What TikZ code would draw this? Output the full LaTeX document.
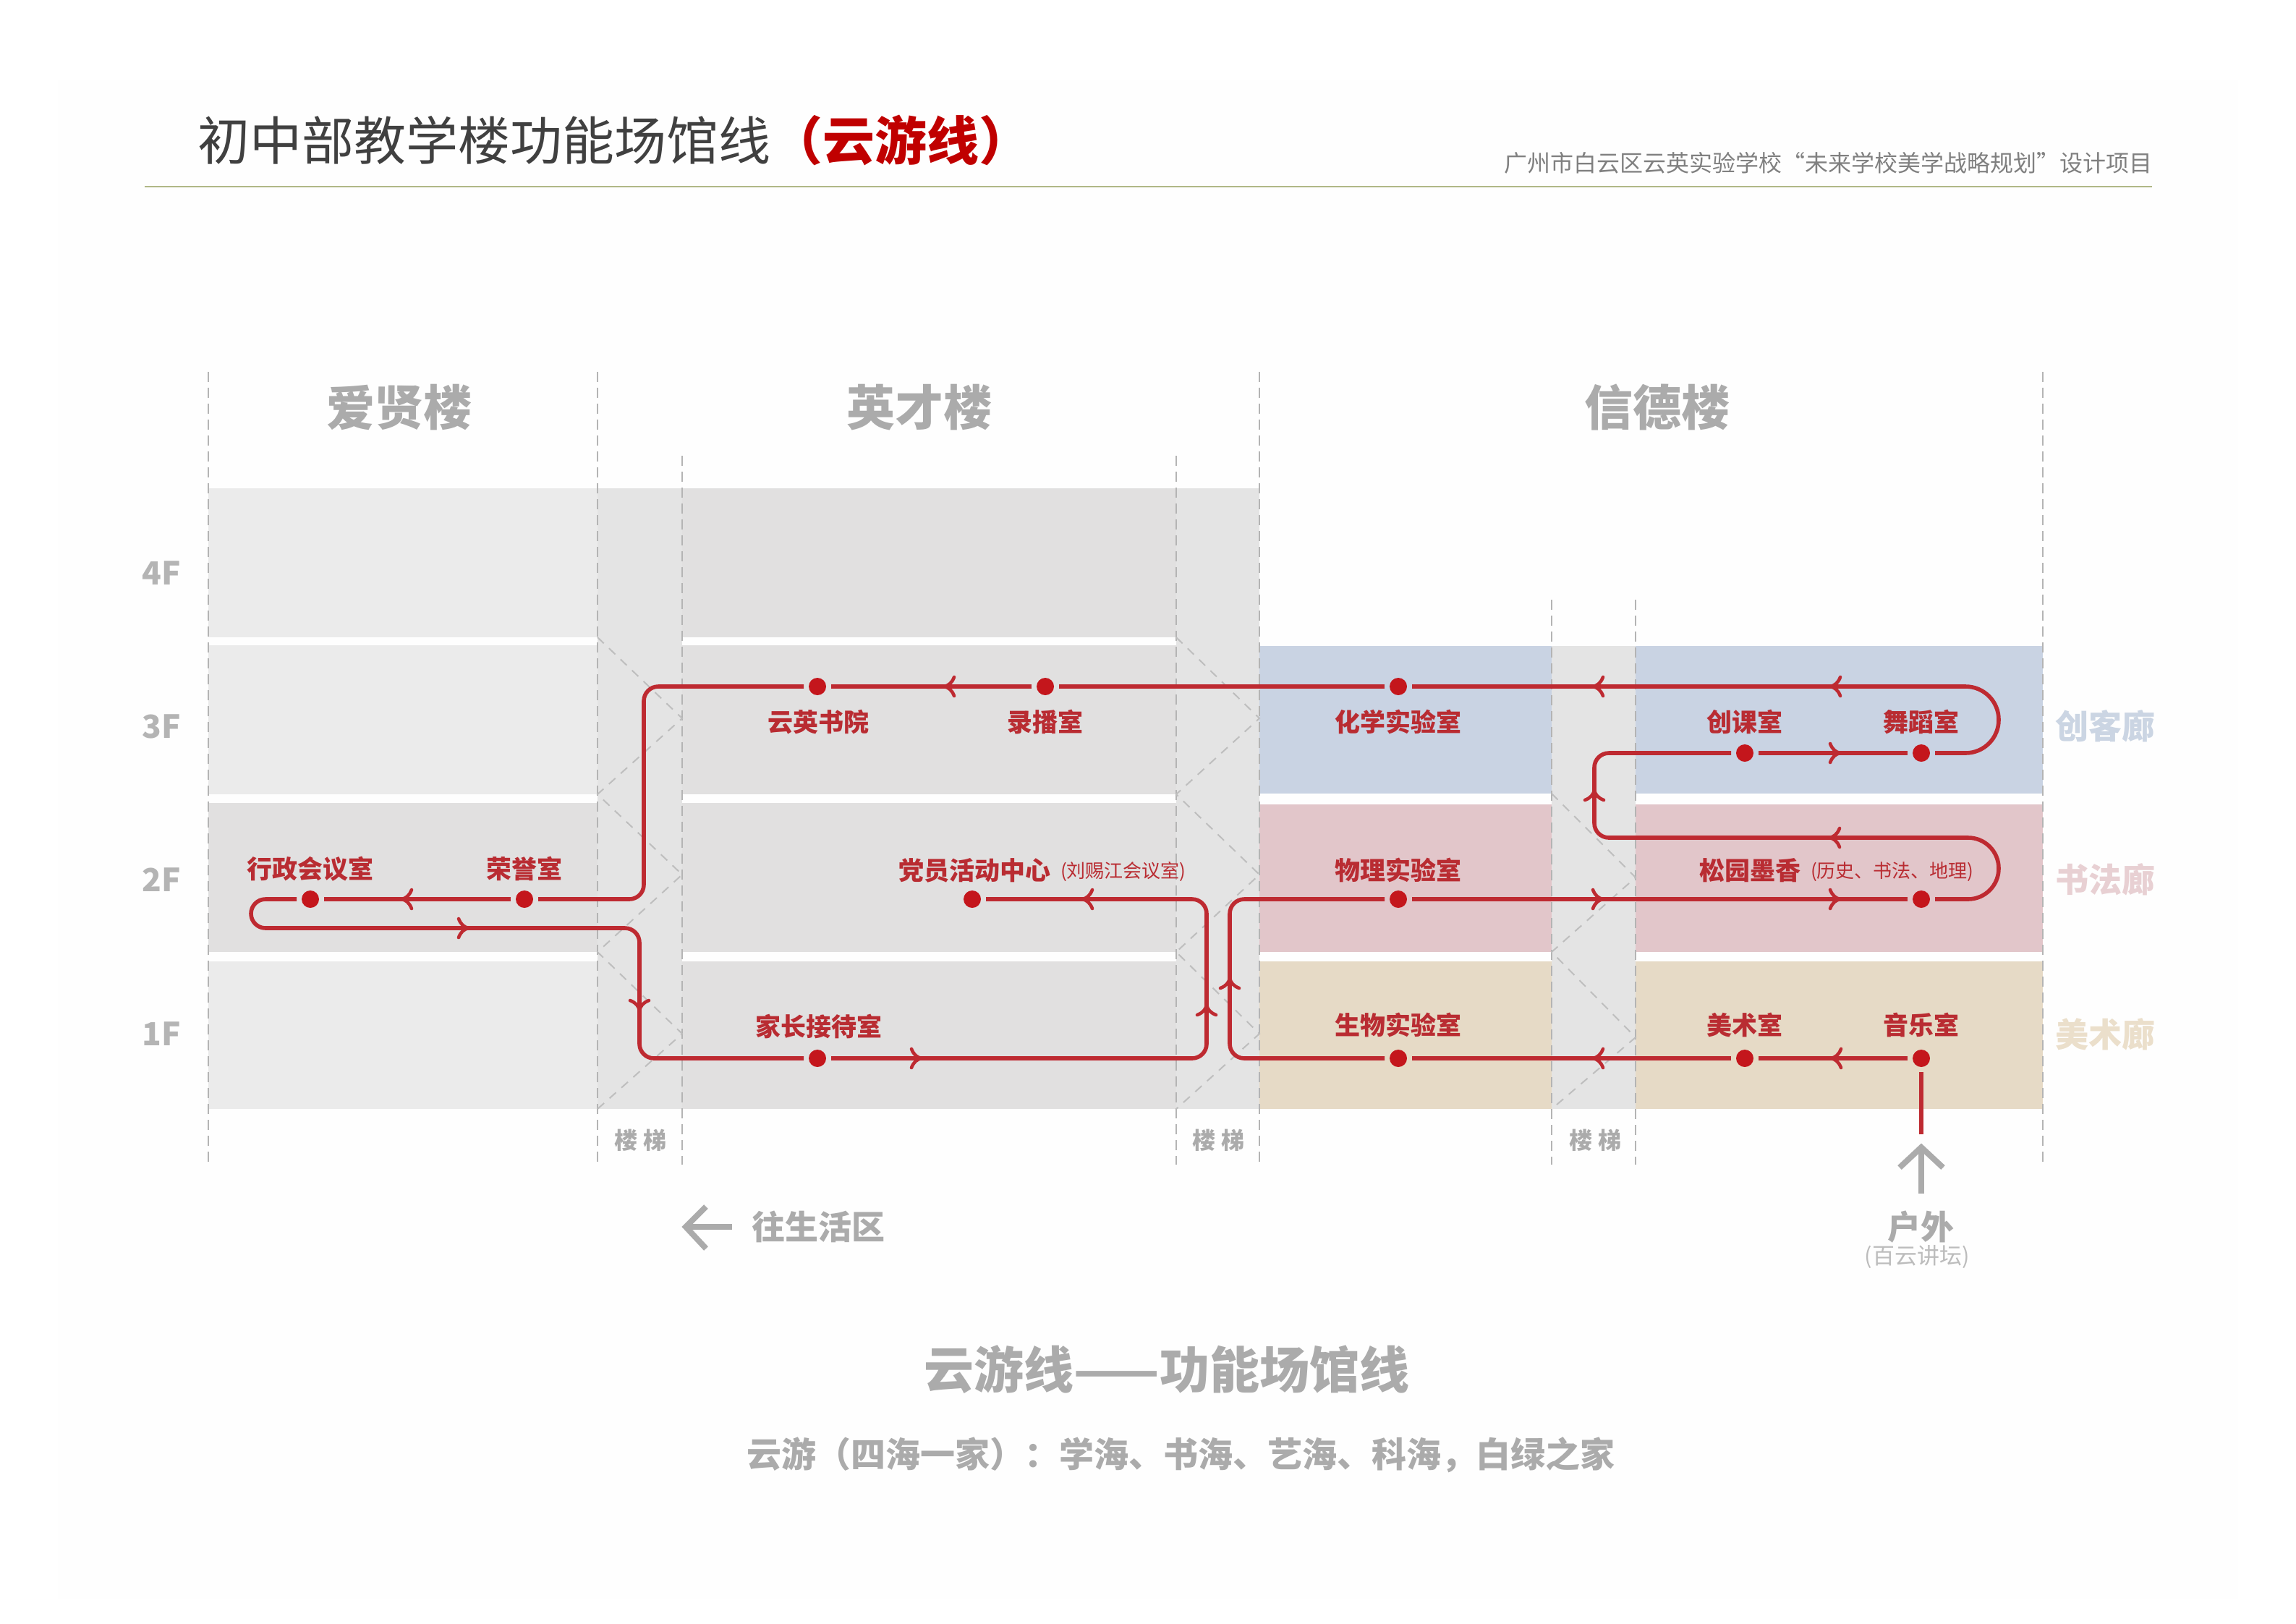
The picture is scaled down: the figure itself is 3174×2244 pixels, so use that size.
\documentclass[tikz,border=0pt]{standalone}
\usepackage{fontspec}
\setmainfont{Noto Sans CJK SC}
\usetikzlibrary{calc}
\definecolor{routered}{HTML}{BE2A31}
\definecolor{dotred}{HTML}{C4161C}
\definecolor{labelred}{HTML}{B92C32}
\definecolor{bandlight}{HTML}{EBEBEB}
\definecolor{banddark}{HTML}{E1E0E0}
\definecolor{shaft}{HTML}{E4E4E4}
\definecolor{bandblue}{HTML}{C9D3E3}
\definecolor{bandpink}{HTML}{E2C6CA}
\definecolor{bandtan}{HTML}{E6DAC6}
\definecolor{dashgray}{HTML}{B4B4B4}
\definecolor{diaggray}{HTML}{BEBEBE}
\definecolor{textgray}{HTML}{ABABAB}
\tikzset{
  txt/.style={inner sep=0pt,outer sep=0pt},
  room/.style={txt,text=labelred,font=\fontsize{17.5}{17.5}\selectfont\bfseries},
  roomsub/.style={txt,text=labelred,font=\fontsize{13}{13}\selectfont,anchor=west},
  building/.style={txt,text=textgray,font=\fontsize{33.5}{33.5}\selectfont\bfseries},
  floorlabel/.style={txt,anchor=east,text=textgray!90,font=\fontsize{22}{22}\selectfont\bfseries},
  stairlabel/.style={txt,text=textgray,font=\fontsize{16}{16}\selectfont\bfseries},
  corridor/.style={txt,font=\fontsize{23}{23}\selectfont\bfseries},
  vdash/.style={dashgray,line width=1pt,dash pattern=on 7pt off 4pt},
  ddash/.style={diaggray,line width=1pt,dash pattern=on 6pt off 5pt},
  route/.style={routered,line width=2.8pt},
  chevronline/.style={routered,line width=2.3pt,line cap=round},
  stop/.style={circle,fill=dotred,draw=none,minimum size=12pt,inner sep=0pt,outer sep=3.5pt},
  grayarrow/.style={textgray,line width=4pt},
}
\newcommand{\chevmark}[3]{\draw[chevronline,shift={(#1,#2)},rotate=#3] (-14,-13) .. controls (-11,-5) and (-6,-1) .. (0,0) .. controls (-6,1) and (-11,5) .. (-14,13);}
\begin{document}
\begin{tikzpicture}[x=0.5pt,y=-0.5pt]
\useasboundingbox (0,0) rectangle (3174,2244);
\fill[white] (0,0) rectangle (3174,2244);
\fill[black!0.5] (80,110) rectangle (3094,2210);

% floor bands: left wing
\fill[bandlight] (288,675) rectangle (826,881);
\fill[bandlight] (288,892) rectangle (826,1098);
\fill[banddark] (288,1110) rectangle (826,1316);
\fill[bandlight] (288,1329) rectangle (826,1533);
% floor bands: middle wing
\fill[banddark] (943,675) rectangle (1626,881);
\fill[banddark] (943,892) rectangle (1626,1098);
\fill[banddark] (943,1110) rectangle (1626,1316);
\fill[banddark] (943,1329) rectangle (1626,1533);
% stair shafts
\fill[shaft] (826,675) rectangle (943,1533);
\fill[shaft] (1626,675) rectangle (1741,1533);
\fill[shaft] (2145,893) rectangle (2261,1533);
% coloured corridors
\fill[bandblue] (1741,893) rectangle (2145,1097);
\fill[bandblue] (2261,893) rectangle (2824,1097);
\fill[bandpink] (1741,1112) rectangle (2145,1316);
\fill[bandpink] (2261,1112) rectangle (2824,1316);
\fill[bandtan] (1741,1329) rectangle (2145,1533);
\fill[bandtan] (2261,1329) rectangle (2824,1533);

% dashed guides
\draw[vdash] (288,514) -- (288,1610);
\draw[vdash] (826,514) -- (826,1610);
\draw[vdash] (943,630) -- (943,1610);
\draw[vdash] (1626,630) -- (1626,1610);
\draw[vdash] (1741,514) -- (1741,1610);
\draw[vdash] (2145,829) -- (2145,1610);
\draw[vdash] (2261,829) -- (2261,1610);
\draw[vdash] (2824,514) -- (2824,1610);
\draw[ddash] (826,881) -- (943,993) -- (826,1098) -- (943,1209) -- (826,1316) -- (943,1429) -- (826,1533);
\draw[ddash] (1626,881) -- (1741,993) -- (1626,1098) -- (1741,1209) -- (1626,1316) -- (1741,1429) -- (1626,1533);
\draw[ddash] (2145,1097) -- (2261,1213) -- (2145,1316) -- (2261,1434) -- (2145,1533);

% header
\node[txt,anchor=west,text=black!75,font=\fontsize{36}{36}\selectfont] (title) at (273,194) {初中部教学楼功能场馆线{\color[HTML]{C00000}\bfseries （云游线）}};
\node[txt,anchor=east,text=black!50,font=\fontsize{16}{16}\selectfont] (project) at (2975,225) {广州市白云区云英实验学校“未来学校美学战略规划”设计项目};
\draw[draw={rgb,255:red,176;green,184;blue,135},line width=0.8pt] (200,258) -- (2975,258);

% buildings
\node[building] (b1) at (552,563) {爱贤楼};
\node[building] (b2) at (1271,563) {英才楼};
\node[building] (b3) at (2291,563) {信德楼};

% floors
\node[floorlabel] (f4) at (250,792) {4F};
\node[floorlabel] (f3) at (250,1004) {3F};
\node[floorlabel] (f2) at (250,1216) {2F};
\node[floorlabel] (f1) at (250,1429) {1F};

% corridors
\node[corridor,text={rgb,255:red,203;green,213;blue,227}] (c3) at (2910,1004) {创客廊};
\node[corridor,text={rgb,255:red,232;green,208;blue,211}] (c2) at (2910,1216) {书法廊};
\node[corridor,text={rgb,255:red,235;green,223;blue,203}] (c1) at (2910,1430) {美术廊};

% stairs
\node[stairlabel] (s1) at (885,1576) {楼\hspace{4pt}梯};
\node[stairlabel] (s2) at (1684,1576) {楼\hspace{4pt}梯};
\node[stairlabel] (s3) at (2205,1576) {楼\hspace{4pt}梯};

% stops
\node[stop] (yinyue) at (2656,1463) {};
\node[stop] (meishu) at (2412,1463) {};
\node[stop] (shengwu) at (1933,1463) {};
\node[stop] (wuli) at (1933,1243) {};
\node[stop] (songyuan) at (2656,1243) {};
\node[stop] (chuangke) at (2412,1041) {};
\node[stop] (wudao) at (2656,1041) {};
\node[stop] (huaxue) at (1933,949) {};
\node[stop] (luobo) at (1445,949) {};
\node[stop] (shuyuan) at (1130,949) {};
\node[stop] (rongyu) at (725,1243) {};
\node[stop] (xingzheng) at (429,1243) {};
\node[stop] (jiazhang) at (1130,1463) {};
\node[stop] (dangyuan) at (1344,1243) {};

% room labels
\node[room] at (1933,998) (l1) {化学实验室};
\node[room] at (2412,998) (l2) {创课室};
\node[room] at (2656,998) (l3) {舞蹈室};
\node[room] at (1131,998) (l4) {云英书院};
\node[room] at (1445,998) (l5) {录播室};
\node[room] at (429,1201) (l6) {行政会议室};
\node[room] at (725,1201) (l7) {荣誉室};
\node[room,anchor=west] at (1242,1203) (l8) {党员活动中心};
\node[roomsub] at (1466,1205) (l8s) {(刘赐江会议室)};
\node[room] at (1933,1203) (l9) {物理实验室};
\node[room,anchor=west] at (2349,1203) (l10) {松园墨香};
\node[roomsub] at (2503,1205) (l10s) {(历史、书法、地理)};
\node[room] at (1132,1419) (l11) {家长接待室};
\node[room] at (1933,1417) (l12) {生物实验室};
\node[room] at (2412,1417) (l13) {美术室};
\node[room] at (2656,1417) (l14) {音乐室};

% turning points
\coordinate (enter) at (2656,1568);
\coordinate (t1) at (1700,1463);
\coordinate (t2) at (1700,1243);
\coordinate (t3) at (2763,1243);
\coordinate (t4) at (2763,1158);
\coordinate (t5) at (2204,1158);
\coordinate (t6) at (2204,1041);
\coordinate (t7) at (2763,1041);
\coordinate (t8) at (2763,949);
\coordinate (t9) at (890,949);
\coordinate (t10) at (890,1243);
\coordinate (t11) at (347,1243);
\coordinate (t12) at (347,1283);
\coordinate (t13) at (884,1283);
\coordinate (t14) at (884,1463);
\coordinate (t15) at (1668,1463);
\coordinate (t16) at (1668,1243);

% route
\draw[route] (enter) -- (yinyue);
\draw[route] (yinyue) -- (meishu);
\draw[route] (meishu) -- (shengwu);
\draw[route,rounded corners=10pt] (shengwu) -- (t1) -- (t2) -- (wuli);
\draw[route] (wuli) -- (songyuan);
\draw[route] (songyuan) [rounded corners=21.2pt] -- (t3) -- (t4) [rounded corners=10pt] -- (t5) -- (t6) -- (chuangke);
\draw[route] (chuangke) -- (wudao);
\draw[route] (wudao) [rounded corners=22.9pt] -- (t7) -- (t8) -- (huaxue);
\draw[route] (huaxue) -- (luobo);
\draw[route] (luobo) -- (shuyuan);
\draw[route,rounded corners=10pt] (shuyuan) -- (t9) -- (t10) -- (rongyu);
\draw[route] (rongyu) -- (xingzheng);
\draw[route] (xingzheng) [rounded corners=10pt] -- (t11) -- (t12) -- (t13) -- (t14) -- (jiazhang);
\draw[route,rounded corners=10pt] (jiazhang) -- (t15) -- (t16) -- (dangyuan);

% direction marks
\chevmark{2531}{1463}{180}
\chevmark{2202}{1463}{180}
\chevmark{1700}{1352}{90}
\chevmark{2216}{1243}{0}
\chevmark{2544}{1243}{0}
\chevmark{2529}{1158}{180}
\chevmark{2204}{1092}{90}
\chevmark{2544}{1041}{0}
\chevmark{2530}{949}{180}
\chevmark{2202}{949}{180}
\chevmark{1305}{949}{180}
\chevmark{555}{1243}{180}
\chevmark{648}{1283}{0}
\chevmark{884}{1397}{270}
\chevmark{1274}{1463}{0}
\chevmark{1668}{1389}{90}
\chevmark{1496}{1243}{180}

% gray arrows
\coordinate (up0) at (2656,1650);
\coordinate (up1) at (2656,1586);
\draw[grayarrow] (up0) -- (up1);
\draw[grayarrow] (2626,1614) -- (up1) -- (2686,1614);
\coordinate (left0) at (1012,1696);
\coordinate (left1) at (948,1696);
\draw[grayarrow] (left0) -- (left1);
\draw[grayarrow] (976,1668) -- (left1) -- (976,1726);
\node[txt,text=textgray,font=\fontsize{23}{23}\selectfont\bfseries] (live) at (1131,1696) {往生活区};
\node[txt,text=textgray,font=\fontsize{23}{23}\selectfont\bfseries] (out) at (2655,1696) {户外};
\node[txt,text=textgray!80,font=\fontsize{15.5}{15.5}\selectfont] (outsub) at (2650,1737) {(百云讲坛)};

% captions
\node[txt,text=textgray,font=\fontsize{34.5}{34.5}\selectfont\bfseries] (cap1) at (1613,1893) {云游线——功能场馆线};
\node[txt,text=textgray,font=\fontsize{24}{24}\selectfont\bfseries] (cap2) at (1632,2011) {云游（四海一家）：学海、书海、艺海、科海，白绿之家};
\end{tikzpicture}
\end{document}
